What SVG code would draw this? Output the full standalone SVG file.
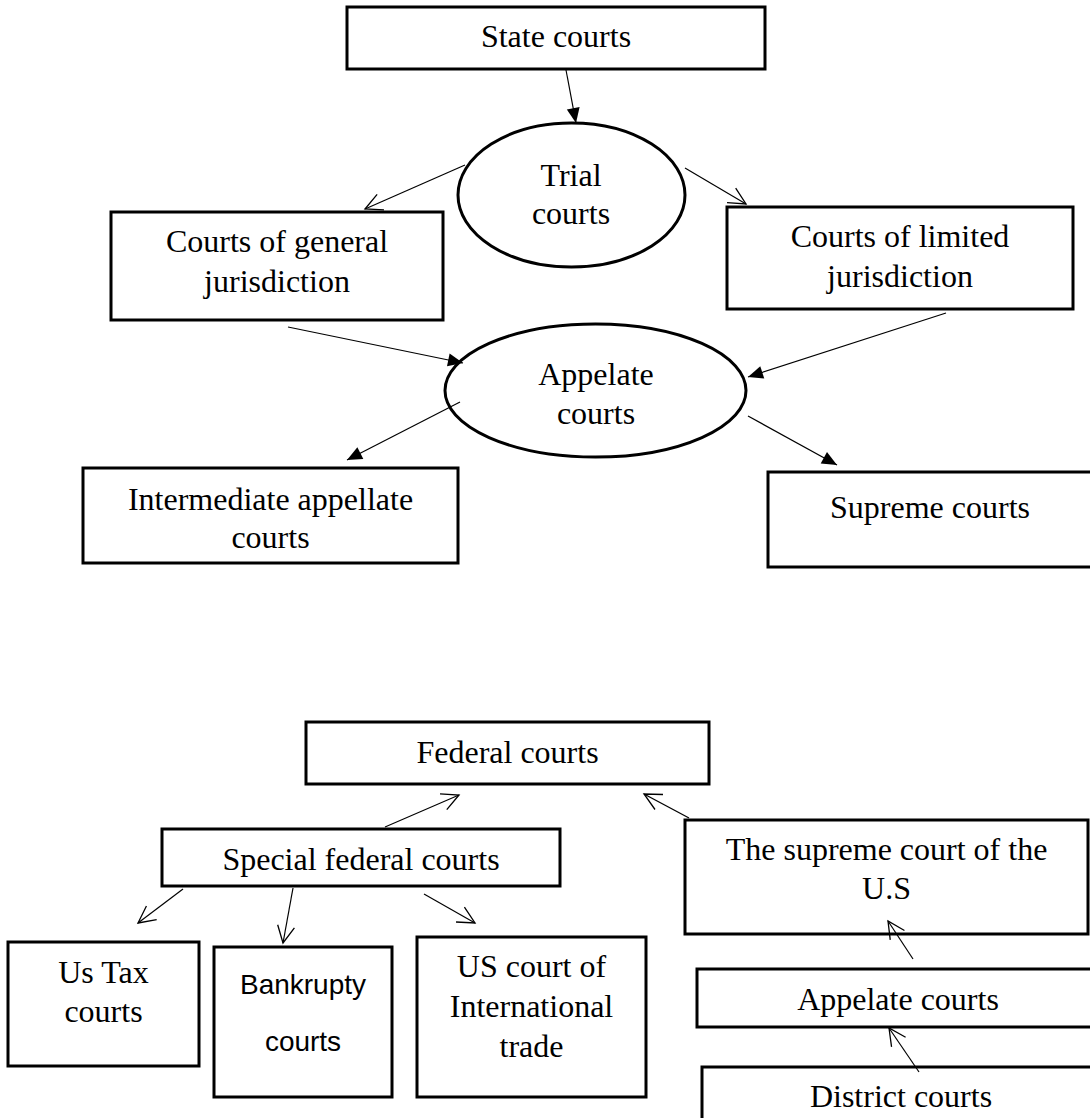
<svg xmlns="http://www.w3.org/2000/svg" width="1090" height="1118" viewBox="0 0 1090 1118">
  <style>
    .box { fill: #fff; stroke: #000; stroke-width: 3; }
    .oval { fill: #fff; stroke: #000; stroke-width: 3; }
    .t { font-family: "Liberation Serif", "Times New Roman", serif; font-size: 32px; fill: #000; text-anchor: middle; }
    .ts { font-family: "Liberation Sans", Arial, sans-serif; font-size: 28px; fill: #000; text-anchor: middle; }
    .link { stroke: #000; stroke-width: 1.2; fill: none; }
    .solid { marker-end: url(#tri); }
    .open { marker-end: url(#vee); }
  </style>
  <defs>
    <marker id="tri" markerUnits="userSpaceOnUse" orient="auto" refX="0" refY="0" markerWidth="20" markerHeight="20" viewBox="-18 -10 20 20" overflow="visible">
      <path d="M0,0 L-15,-6.5 L-15,6.5 Z" fill="#000"/>
    </marker>
    <marker id="vee" markerUnits="userSpaceOnUse" orient="auto" refX="0" refY="0" markerWidth="20" markerHeight="20" viewBox="-18 -10 20 20" overflow="visible">
      <path d="M-17,-8.5 L0,0 L-17,8.5" fill="none" stroke="#000" stroke-width="1.3"/>
    </marker>
  </defs>

  <rect width="1090" height="1118" fill="#fff"/>

  <!-- state court system -->
  <g id="state-courts">
    <rect class="box" x="347" y="7" width="418" height="62"/>
    <text class="t" x="556" y="47">State courts</text>
  </g>
  <g id="trial-courts">
    <ellipse class="oval" cx="571.5" cy="195" rx="113.5" ry="72"/>
    <text class="t" x="571" y="186">Trial</text>
    <text class="t" x="571" y="224">courts</text>
  </g>
  <g id="general-jurisdiction">
    <rect class="box" x="111" y="212" width="332" height="108"/>
    <text class="t" x="277" y="252">Courts of general</text>
    <text class="t" x="277" y="292">jurisdiction</text>
  </g>
  <g id="limited-jurisdiction">
    <rect class="box" x="727" y="207" width="346" height="102"/>
    <text class="t" x="900" y="247">Courts of limited</text>
    <text class="t" x="900" y="287">jurisdiction</text>
  </g>
  <g id="appelate-state">
    <ellipse class="oval" cx="595.5" cy="390.5" rx="150.5" ry="66.5"/>
    <text class="t" x="596" y="385">Appelate</text>
    <text class="t" x="596" y="424">courts</text>
  </g>
  <g id="intermediate-appellate">
    <rect class="box" x="83" y="468" width="375" height="95"/>
    <text class="t" x="270.5" y="510">Intermediate appellate</text>
    <text class="t" x="270.5" y="548">courts</text>
  </g>
  <g id="supreme-state">
    <rect class="box" x="768" y="472" width="325" height="95"/>
    <text class="t" x="930" y="518">Supreme courts</text>
  </g>

  <!-- federal court system -->
  <g id="federal-courts">
    <rect class="box" x="306" y="722" width="403" height="62"/>
    <text class="t" x="507.5" y="763">Federal courts</text>
  </g>
  <g id="special-federal">
    <rect class="box" x="162" y="829" width="398" height="57"/>
    <text class="t" x="361" y="870">Special federal courts</text>
  </g>
  <g id="supreme-us">
    <rect class="box" x="685" y="820" width="403" height="114"/>
    <text class="t" x="886.5" y="860">The supreme court of the</text>
    <text class="t" x="886.5" y="899">U.S</text>
  </g>
  <g id="appelate-federal">
    <rect class="box" x="697" y="969" width="400" height="58"/>
    <text class="t" x="898" y="1010">Appelate courts</text>
  </g>
  <g id="district-courts">
    <rect class="box" x="702" y="1067" width="400" height="80"/>
    <text class="t" x="901" y="1107">District courts</text>
  </g>
  <g id="tax-courts">
    <rect class="box" x="8" y="942" width="191" height="124"/>
    <text class="t" x="103.5" y="983">Us Tax</text>
    <text class="t" x="103.5" y="1022">courts</text>
  </g>
  <g id="bankruptcy-courts">
    <rect class="box" x="214" y="947" width="178" height="150"/>
    <text class="ts" x="303" y="994">Bankrupty</text>
    <text class="ts" x="303" y="1051">courts</text>
  </g>
  <g id="international-trade">
    <rect class="box" x="417" y="937" width="229" height="160"/>
    <text class="t" x="531.5" y="977">US court of</text>
    <text class="t" x="531.5" y="1017">International</text>
    <text class="t" x="531.5" y="1057">trade</text>
  </g>

  <!-- connectors, drawn over the nodes so heads that overlap a border stay visible -->
  <g id="connectors">
    <line class="link solid" x1="566" y1="70" x2="576" y2="123"/>
    <line class="link open" x1="465" y1="165" x2="365" y2="209"/>
    <line class="link open" x1="685" y1="168" x2="746" y2="204"/>
    <line class="link solid" x1="288" y1="327" x2="463" y2="363"/>
    <line class="link solid" x1="946" y1="313" x2="748" y2="377"/>
    <line class="link solid" x1="460" y1="402" x2="347" y2="460"/>
    <line class="link solid" x1="748" y1="416" x2="837" y2="465"/>
    <line class="link open" x1="385" y1="827" x2="459" y2="795"/>
    <line class="link open" x1="689" y1="818" x2="644" y2="794"/>
    <line class="link open" x1="183" y1="889" x2="138" y2="923"/>
    <line class="link open" x1="293" y1="888" x2="283" y2="943"/>
    <line class="link open" x1="424" y1="894" x2="475" y2="923"/>
    <line class="link open" x1="913" y1="959" x2="888" y2="921"/>
    <line class="link open" x1="919" y1="1072" x2="889" y2="1028"/>
  </g>
</svg>
